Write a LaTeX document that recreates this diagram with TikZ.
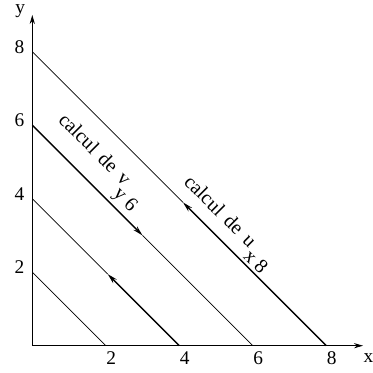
\documentclass[tikz,border=0pt]{standalone}
\usepackage{fontspec}
\setmainfont{Liberation Serif}
\usetikzlibrary{arrows.meta}
\newcommand{\wsp}{\hspace{0.4em}}
\begin{document}
\begin{tikzpicture}[
  thinln/.style={line width=0.5pt},
  thickln/.style={line width=1pt},
  axisln/.style={line width=0.6pt,-{Stealth[length=7pt,width=4pt]}},
  midarr/.style={-{Stealth[length=8pt,width=4pt]}},
  lbl/.style={font=\fontsize{15}{17}\selectfont, inner sep=0pt},
  rlbl/.style={font=\fontsize{15.5}{17}\selectfont, inner sep=0pt, rotate=-45}
]
\useasboundingbox (-0.879,-0.743) rectangle (9.271,9.407);
\coordinate (O) at (0,0);
\coordinate (X) at (9,0);
\coordinate (Y) at (0,9);
\foreach \k in {2,4,6,8} {
  \coordinate (x\k) at (\k,0);
  \coordinate (y\k) at (0,\k);
}
\coordinate (m8) at (4.1,3.9);
\coordinate (m6) at (3,3);
\coordinate (m4) at (2.05,1.95);
% axes
\draw[axisln] (O) -- (X);
\draw[axisln] (O) -- (Y);
\draw[thickln] (x4) -- (x8);
% lines
\draw[thinln] (y2) -- (x2);
\draw[thinln] (y4) -- (m4);
\draw[thickln,midarr] (x4) -- (m4);
\draw[thinln] (m6) -- (x6);
\draw[thickln,midarr] (y6) -- (m6);
\draw[thinln] (y8) -- (m8);
\draw[thickln,midarr] (x8) -- (m8);
% tick labels
\foreach \k in {2,4,6,8} {
  \node[lbl] (tx\k) at (\k+0.15,-0.34) {\k};
  \node[lbl] (ty\k) at (-0.35,\k+0.13) {\k};
}
\node[lbl] (xl) at (9.15,-0.34) {x};
\node[lbl] (yl) at (-0.33,9.1) {y};
% rotated labels
\node[rlbl] (cv) at (1.71,5.35) {calcul\wsp de\wsp v};
\node[rlbl] (y6) at (2.51,3.95) {y 6};
\node[rlbl] (cu) at (5.13,3.66) {calcul\wsp de\wsp u};
\node[rlbl] (x8l) at (6.09,2.29) {x 8};
\end{tikzpicture}
\end{document}
